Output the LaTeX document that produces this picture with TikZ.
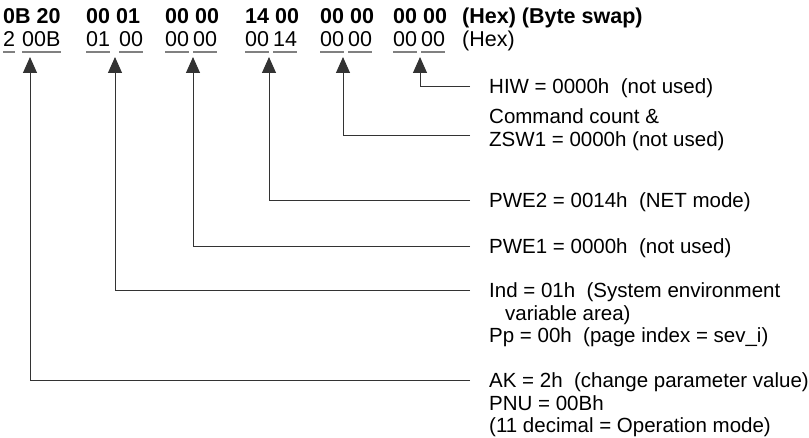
\documentclass[tikz,border=0pt]{standalone}
\usepackage{fontspec}
\setmainfont{Liberation Sans}
\usetikzlibrary{arrows.meta}

\tikzset{
  hexb/.style={font=\fontsize{21.5}{22}\selectfont\bfseries, inner sep=0pt, anchor=base west},
  hexn/.style={font=\fontsize{21.5}{22}\selectfont, inner sep=0pt, anchor=base west},
  lbl/.style={font=\fontsize{20.5}{22}\selectfont, inner sep=0pt, text height=15pt, text depth=7pt, anchor=base west},
  lblnext/.style={lbl, anchor=north west},
  uline/.style={draw=black!50, line width=1.5pt},
  conn/.style={draw=black!80, line width=1pt, -{Triangle[width=14pt,length=16pt]}},
}

\begin{document}
\begin{tikzpicture}[x=1pt, y=-1pt]
    \useasboundingbox (0,0) rectangle (809,438);

    % byte swapped row
    \node[hexb] (s1) at (3,24) {0B 20};
    \node[hexb] (s2) at (86,24) {00 01};
    \node[hexb] (s3) at (165,24) {00 00};
    \node[hexb] (s4) at (245,24) {14 00};
    \node[hexb] (s5) at (320,24) {00 00};
    \node[hexb] (s6) at (393,24) {00 00};
    \node[hexb] (swap) at (462,24) {(Hex) (Byte swap)};

    % row as sent, every byte underlined
    \foreach \b/\x [count=\i] in {2/3, 00B/22, 01/86, 00/119, 00/165, 00/193,
                                  00/245, 14/273, 00/320, 00/348, 00/393, 00/421} {
        \node[hexn] (b\i) at (\x,47) {\b};
        \draw[uline] ([yshift=-5pt]b\i.base west) -- ([yshift=-5pt]b\i.base east);
    }
    \node[hexn] (hex) at (462,47) {(Hex)};

    % arrow tips
    \coordinate (t1) at (30,57);
    \coordinate (t2) at (115,57);
    \coordinate (t3) at (193,57);
    \coordinate (t4) at (269,57);
    \coordinate (t5) at (343,57);
    \coordinate (t6) at (420,57);

    % labels
    \node[lbl] (hiw) at (489,94) {HIW = 0000h\ \ (not used)};
    \node[lbl] (cmd) at (489,124) {Command count \&};
    \node[lblnext] (zsw) at (cmd.south west) {ZSW1 = 0000h (not used)};
    \node[lbl] (pwe2) at (489,208) {PWE2 = 0014h\ \ (NET mode)};
    \node[lbl] (pwe1) at (489,254) {PWE1 = 0000h\ \ (not used)};
    \node[lbl] (ind) at (489,298) {Ind = 01h\ \ (System environment};
    \node[lblnext] (var) at (ind.south west) {\hspace{16pt}variable area)};
    \node[lblnext] (pp) at (var.south west) {Pp = 00h\ \ (page index = sev\_i)};
    \node[lbl] (ak) at (489,388) {AK = 2h\ \ (change parameter value)};
    \node[lblnext] (pnu) at (ak.south west) {PNU = 00Bh};
    \node[lblnext] (dec) at (pnu.south west) {(11 decimal = Operation mode)};

    % connectors
    \draw[conn] ([xshift=-19pt,yshift=7pt]hiw.base west) -| (t6);
    \draw[conn] ([xshift=-19pt,yshift=-12pt]cmd.base west) -| (t5);
    \draw[conn] ([xshift=-19pt,yshift=7pt]pwe2.base west) -| (t4);
    \draw[conn] ([xshift=-19pt,yshift=7pt]pwe1.base west) -| (t3);
    \draw[conn] ([xshift=-19pt,yshift=7pt]ind.base west) -| (t2);
    \draw[conn] ([xshift=-19pt,yshift=7pt]ak.base west) -| (t1);
\end{tikzpicture}
\end{document}
